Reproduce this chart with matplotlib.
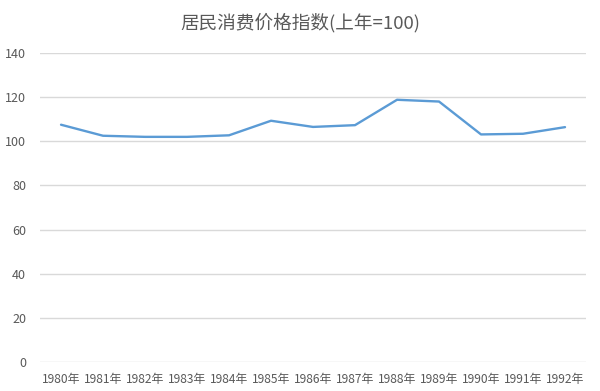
import matplotlib
matplotlib.use("Agg")
import matplotlib.pyplot as plt

plt.rcParams['font.family'] = ['Noto Sans CJK SC', 'DejaVu Sans']

years = ["1980年", "1981年", "1982年", "1983年", "1984年", "1985年", "1986年",
         "1987年", "1988年", "1989年", "1990年", "1991年", "1992年"]
cpi = [107.5, 102.5, 102.0, 102.0, 102.7, 109.3, 106.5, 107.3, 118.8, 118.0, 103.1, 103.4, 106.4]
yticks = [0, 20, 40, 60, 80, 100, 120, 140]

fig = plt.figure(figsize=(6, 3.91), dpi=100)
ax = fig.add_axes([0.0667, 0.0742, 0.91, 0.7903])

x = list(range(len(years)))
ax.plot(x, cpi, color="#5B9BD5", linewidth=1.7, solid_capstyle="round", zorder=3)

ax.set_xlim(-0.5, len(years) - 0.5)
ax.set_ylim(0, 140)
ax.set_yticks(yticks)
ax.set_xticks(x)
ax.set_xticklabels(years)
ax.grid(axis="y", color="#D9D9D9", linewidth=1)
ax.set_axisbelow(True)
for side in ["top", "right", "left", "bottom"]:
    ax.spines[side].set_visible(False)
ax.tick_params(axis="both", length=0, colors="#595959")
ax.tick_params(axis="x", pad=8, labelsize=8.6)
ax.tick_params(axis="y", pad=10, labelsize=9)

fig.text(0.5, 0.941, "居民消费价格指数(上年=100)", ha="center", va="center",
         fontsize=13.4, color="#595959")

plt.savefig("out.png", dpi=100)
